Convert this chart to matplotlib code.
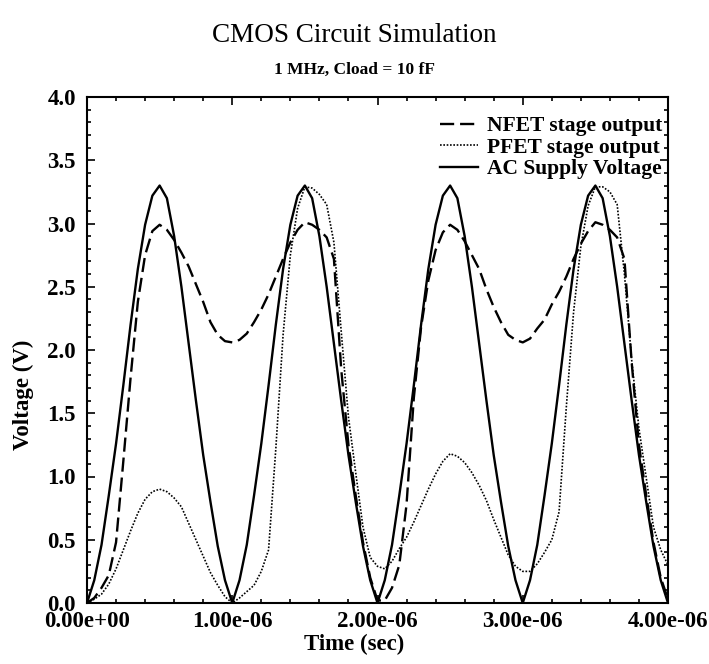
import numpy as np
import matplotlib
matplotlib.use("Agg")
import matplotlib.pyplot as plt
from matplotlib.ticker import MultipleLocator, FormatStrFormatter

# ---- data ----
time_us = np.round(np.arange(0, 4.0001, 0.05), 2)

ac_supply = [
    0.00, 0.18, 0.46, 0.85, 1.26, 1.72, 2.20, 2.64, 2.99, 3.22,
    3.30, 3.20, 2.90, 2.50, 2.05, 1.60, 1.17, 0.80, 0.45, 0.18,
    0.00, 0.18, 0.46, 0.85, 1.26, 1.72, 2.20, 2.64, 2.99, 3.22,
    3.30, 3.20, 2.90, 2.50, 2.05, 1.60, 1.17, 0.80, 0.45, 0.18,
    0.00, 0.18, 0.46, 0.85, 1.26, 1.72, 2.20, 2.64, 2.99, 3.22,
    3.30, 3.20, 2.90, 2.50, 2.05, 1.60, 1.17, 0.80, 0.45, 0.18,
    0.00, 0.18, 0.46, 0.85, 1.26, 1.72, 2.20, 2.64, 2.99, 3.22,
    3.30, 3.20, 2.90, 2.50, 2.05, 1.60, 1.17, 0.80, 0.45, 0.18,
    0.00,
]

nfet_out = [
    0.00, 0.04, 0.12, 0.22, 0.48, 1.12, 1.78, 2.38, 2.75, 2.94,
    2.99, 2.95, 2.87, 2.77, 2.66, 2.52, 2.38, 2.22, 2.12, 2.07,
    2.06, 2.08, 2.13, 2.22, 2.32, 2.44, 2.58, 2.72, 2.85, 2.95,
    3.01, 2.99, 2.95, 2.89, 2.72, 1.85, 1.25, 0.85, 0.48, 0.20,
    0.02, 0.02, 0.12, 0.30, 0.78, 1.62, 2.18, 2.55, 2.79, 2.93,
    2.99, 2.95, 2.86, 2.75, 2.64, 2.48, 2.34, 2.22, 2.12, 2.08,
    2.06, 2.09, 2.17, 2.24, 2.36, 2.46, 2.58, 2.72, 2.84, 2.94,
    3.01, 2.99, 2.95, 2.89, 2.72, 1.90, 1.25, 0.85, 0.48, 0.20,
    0.03,
]

pfet_out = [
    0.00, 0.03, 0.07, 0.15, 0.27, 0.42, 0.57, 0.71, 0.82, 0.88,
    0.90, 0.88, 0.83, 0.76, 0.63, 0.50, 0.37, 0.24, 0.14, 0.05,
    0.00, 0.04, 0.09, 0.14, 0.25, 0.42, 1.22, 2.12, 2.75, 3.12,
    3.29, 3.28, 3.23, 3.15, 2.85, 2.15, 1.47, 1.03, 0.60, 0.36,
    0.29, 0.27, 0.33, 0.43, 0.52, 0.64, 0.77, 0.90, 1.02, 1.12,
    1.18, 1.16, 1.11, 1.03, 0.93, 0.81, 0.66, 0.52, 0.38, 0.29,
    0.25, 0.25, 0.31, 0.40, 0.50, 0.72, 1.55, 2.30, 2.82, 3.14,
    3.29, 3.29, 3.25, 3.15, 2.60, 1.92, 1.38, 0.99, 0.60, 0.42,
    0.30,
]

labels = ["NFET stage output", "PFET stage output", "AC Supply Voltage"]

t = time_us * 1e-6

plt.rcParams['font.family'] = ['Liberation Serif', 'DejaVu Serif']

fig = plt.figure(figsize=(7.09, 6.64), dpi=100)
ax = fig.add_axes([87/709, 1-603/664, (668-87)/709, (603-97)/664])

ax.plot(t, nfet_out, color='black', lw=1.7, linestyle=(0, (6, 2.5)), label=labels[0])
ax.plot(t, pfet_out, color='black', lw=1.2, linestyle=(0, (1, 1)), label=labels[1])
ax.plot(t, ac_supply, color='black', lw=1.7, linestyle='-', label=labels[2])

ax.set_xlim(0, 4e-6)
ax.set_ylim(0, 4.0)
ax.xaxis.set_major_locator(MultipleLocator(1e-6))
ax.xaxis.set_minor_locator(MultipleLocator(0.2e-6))
ax.yaxis.set_major_locator(MultipleLocator(0.5))
ax.yaxis.set_minor_locator(MultipleLocator(0.1))
ax.xaxis.set_major_formatter(FormatStrFormatter('%.2e'))
ax.yaxis.set_major_formatter(FormatStrFormatter('%.1f'))

ax.tick_params(which='both', direction='in', top=True, right=True, width=1.2)
ax.tick_params(which='major', length=6)
ax.tick_params(which='minor', length=3)
ax.tick_params(axis='x', which='major', pad=6, labelsize=16.5)
ax.tick_params(axis='y', which='major', pad=8, labelsize=16.5)
for lab in ax.get_xticklabels() + ax.get_yticklabels():
    lab.set_fontweight('bold')
for s in ax.spines.values():
    s.set_linewidth(1.5)

ax.set_xlabel('Time (sec)', fontsize=16.5, fontweight='bold')
ax.xaxis.set_label_coords((354.5-87)/581, -0.062)
ax.set_ylabel('Voltage (V)', fontsize=16.5, fontweight='bold')
ax.yaxis.set_label_coords(-0.091, (603-395)/506)

fig.text(0.5, 1-36/664, 'CMOS Circuit Simulation', ha='center', va='center', fontsize=19.5)
fig.text(0.5, 1-70/664, '1 MHz, Cload = 10 fF', ha='center', va='center', fontsize=12.5, fontweight='bold')

leg = ax.legend(loc='upper right', bbox_to_anchor=(1.0, 0.973), frameon=False,
                prop={'size': 15.5, 'weight': 'bold'}, handlelength=1.77,
                handletextpad=0.42, labelspacing=0.07, borderaxespad=0, borderpad=0.25)

fig.savefig('out.png', dpi=100)
